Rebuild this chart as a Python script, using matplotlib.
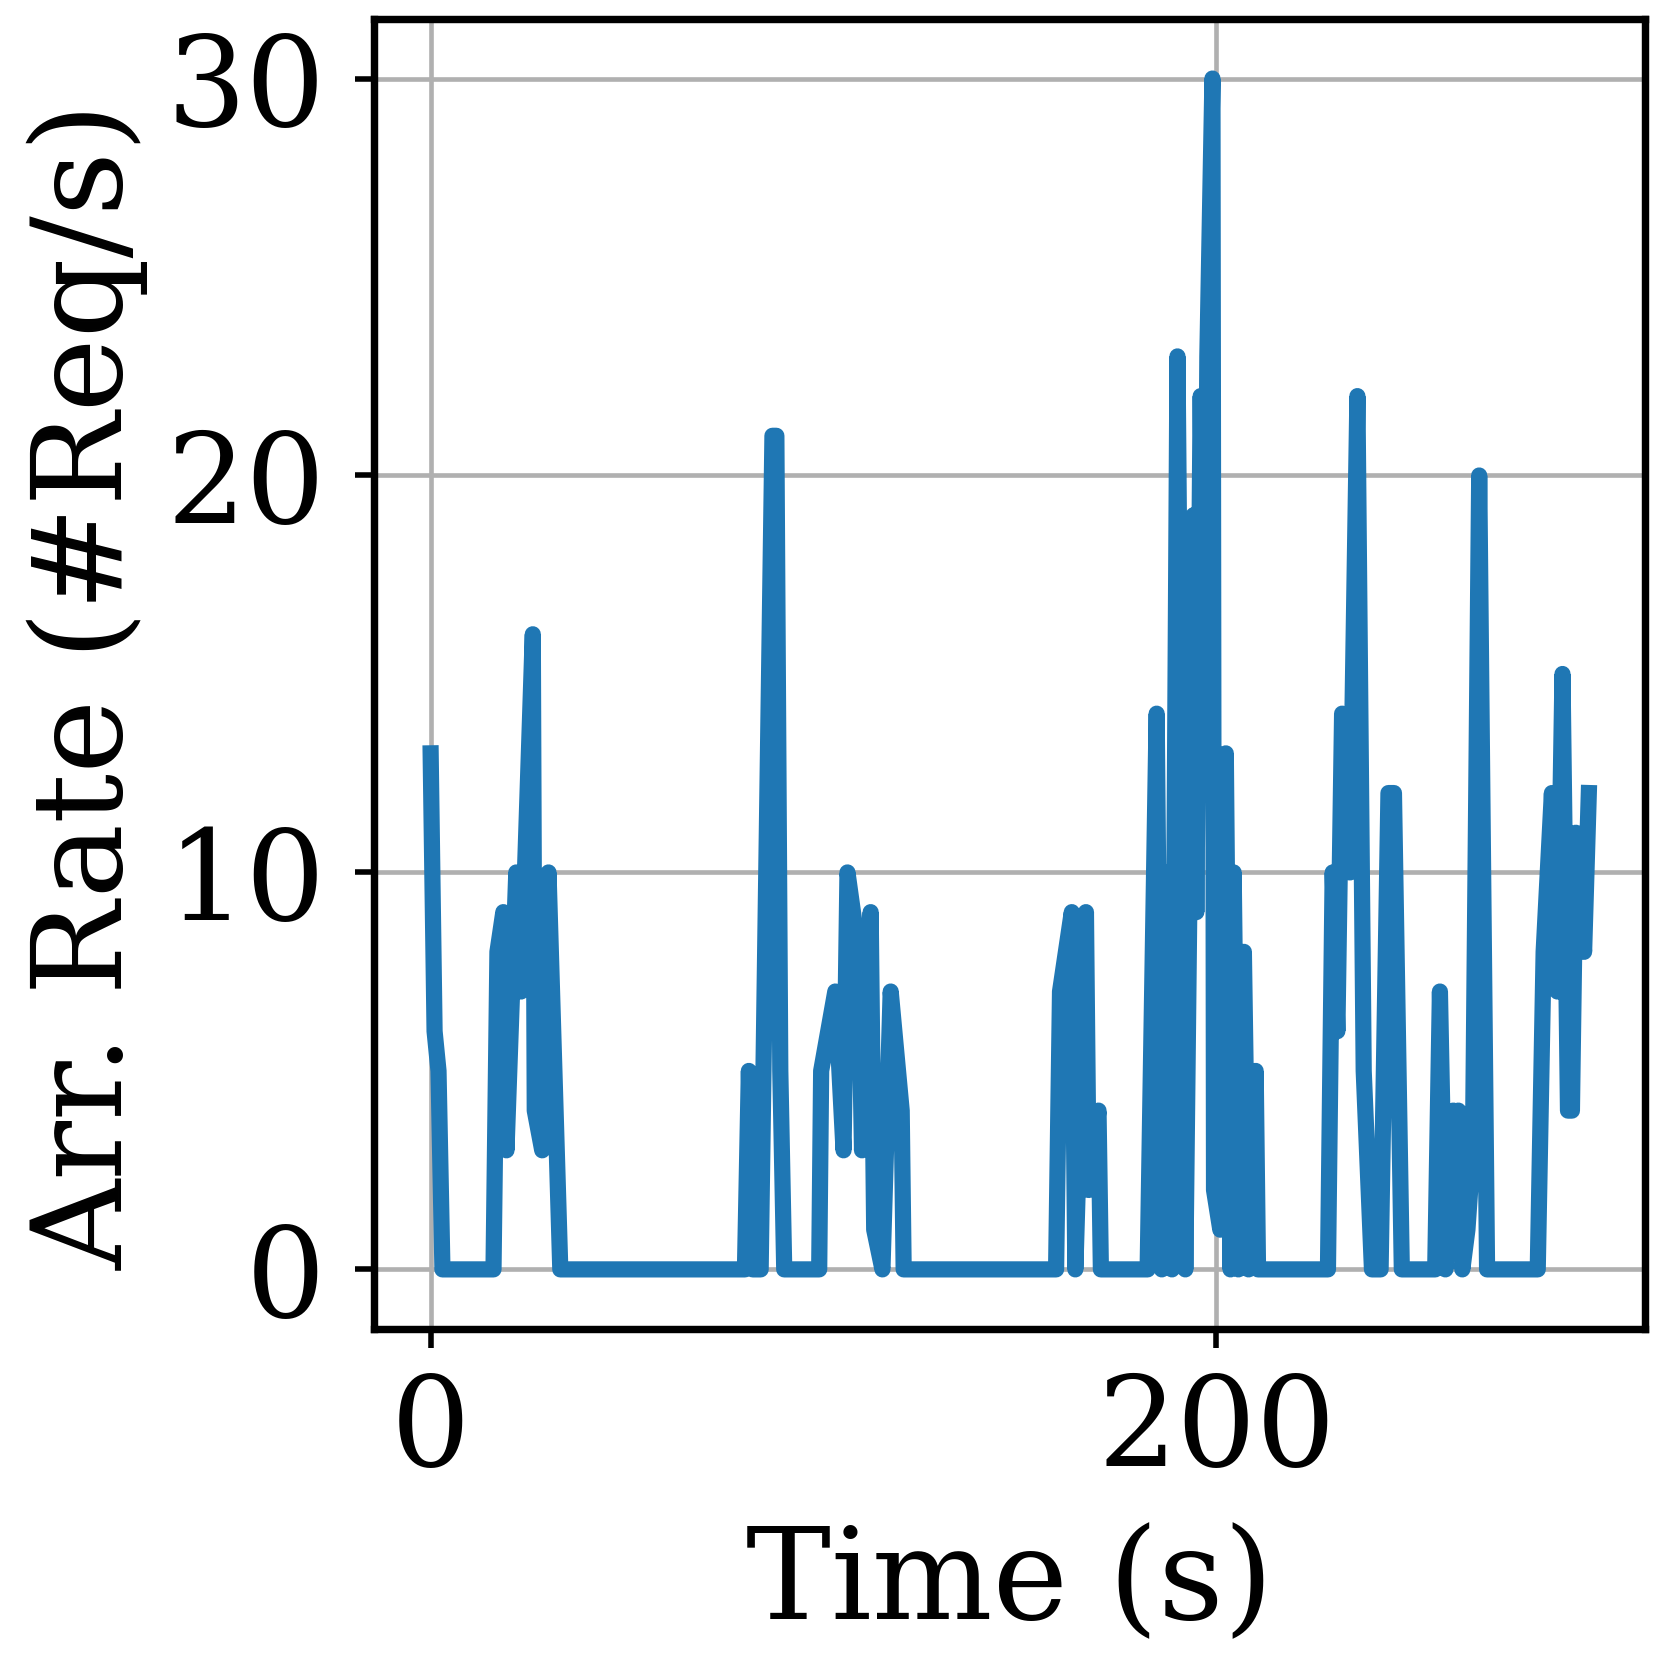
import matplotlib
matplotlib.use("Agg")
import matplotlib.pyplot as plt

plt.rcParams['font.family'] = ['DejaVu Serif']

# time (s) and arrival rate (#Req/s)
time_s = [0, 1, 2, 3,
          16, 17, 18.5, 19.3, 21.8, 23, 26, 26.5, 28.4, 30, 33,
          80, 81, 82, 84, 87, 88, 89, 90,
          98.9, 99.4, 103, 105.1, 106.1, 108.9, 109.8, 112, 112.9, 115, 117.1, 119.9, 120.4,
          159.2, 160.2, 163.2, 164.1, 166.8, 167.5, 170, 170.6,
          182.5, 184.8, 186.1, 187.5, 188.7, 190.1, 192.1, 194.2, 194.9, 196, 197, 197.7,
          199, 199.4, 201, 202.4, 203.6, 204.4, 205.6, 207, 208.2, 210, 210.6,
          228.4, 229.6, 230.8, 232, 234, 235.9, 237.5, 239.6, 241.8, 243.8, 245.2, 247.2,
          255.7, 256.9, 258.3, 260.3, 261, 261.6, 262.6, 263.9, 265.3, 266.9, 268.9,
          281.8, 283.3, 285.4, 286.8, 288.1, 289.5, 290.5, 291.5, 293.6, 294.8]
rate = [13, 6, 5, 0,
        0, 8, 9, 3, 10, 7, 16, 4, 3, 10, 0,
        0, 5, 0, 0, 21, 21, 5, 0,
        0, 5, 7, 3, 10, 8, 3, 9, 1, 0, 7, 4, 0,
        0, 7, 9, 0, 9, 2, 4, 0,
        0, 14, 0, 10, 0, 23, 0, 19, 9, 22, 13, 23,
        30, 2, 1, 13, 0, 10, 0, 8, 0, 5, 0,
        0, 10, 6, 14, 10, 22, 5, 0, 0, 12, 12, 0,
        0, 7, 0, 4, 3, 4, 0, 1, 3, 20, 0,
        0, 8, 12, 7, 15, 4, 4, 11, 8, 12]

y_ticks = [0, 10, 20, 30]
x_ticks = [0, 200]

fig = plt.figure(figsize=(5, 5), dpi=333.4)
ax = fig.add_axes([0.2244, 0.2028, 0.7624, 0.7858])

ax.plot(time_s, rate, color='#1f77b4', linewidth=3.5)

ax.set_xlim(-14.4, 309.1)
ax.set_ylim(-1.5, 31.5)
ax.set_xticks(x_ticks)
ax.set_yticks(y_ticks)
ax.grid(True, color='#b0b0b0', linewidth=1.0)
ax.set_axisbelow(True)

for sp in ax.spines.values():
    sp.set_linewidth(1.6)
    sp.set_color('black')

ax.tick_params(axis='both', labelsize=27, length=4, width=1.2, color='black')
ax.tick_params(axis='y', pad=6.5)
ax.tick_params(axis='x', pad=5)

ax.set_xlabel('Time (s)', fontsize=27.5, labelpad=6.5)
ax.set_ylabel('Arr. Rate (#Req/s)', fontsize=27)
ax.yaxis.set_label_coords(-0.177, 0.491)

fig.savefig('out.png', dpi=333.4)
